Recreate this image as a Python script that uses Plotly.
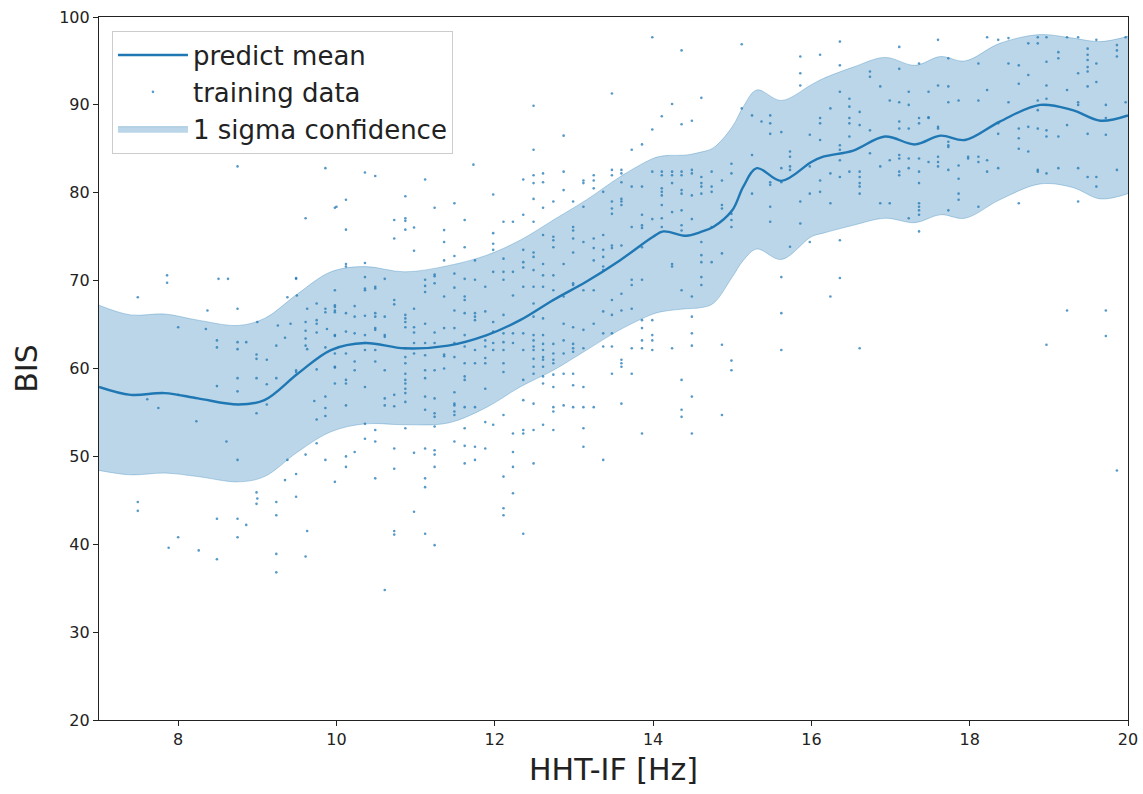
import plotly.graph_objects as go

# ---------------- data ----------------
# Gaussian-process prediction (mean and +/- 1 sigma band)
gp_x = [7.0, 7.4, 7.83, 8.25, 8.76, 9.09, 9.51, 9.93, 10.36, 10.86, 11.41, 11.9,
        12.32, 12.74, 13.16, 13.58, 14.0, 14.13, 14.42, 14.59, 14.76, 15.0, 15.14,
        15.31, 15.62, 16.0, 16.15, 16.53, 16.93, 17.31, 17.63, 17.94, 18.38, 18.89,
        19.3, 19.65, 20.0]
gp_mean = [57.9, 57.0, 57.2, 56.6, 55.9, 56.4, 59.4, 62.1, 62.9, 62.3, 62.6, 63.8,
           65.5, 67.8, 69.9, 72.3, 75.0, 75.6, 75.1, 75.5, 76.1, 78.0, 80.7,
           82.8, 81.35, 83.5, 84.1, 84.8, 86.4, 85.5, 86.5, 86.0, 88.1, 90.0,
           89.4, 88.2, 88.8]
gp_upper = [67.2, 66.1, 66.2, 65.5, 64.9, 65.7, 68.5, 71.0, 71.6, 71.0, 71.7, 72.9,
            74.6, 76.9, 79.2, 81.8, 83.9, 84.2, 84.3, 84.6, 85.1, 87.5, 89.8,
            91.7, 90.5, 92.3, 93.0, 94.3, 95.4, 94.5, 95.5, 95.0, 97.0, 98.0,
            97.6, 97.2, 97.8]
gp_lower = [48.4, 47.9, 48.1, 47.7, 47.1, 47.7, 50.5, 52.8, 53.7, 53.6, 53.8, 55.6,
            57.9, 59.8, 62.1, 64.4, 66.2, 66.5, 66.8, 66.9, 67.4, 70.4, 72.3,
            73.6, 72.4, 75.0, 75.4, 76.3, 77.1, 76.6, 77.5, 77.1, 79.2, 81.0,
            80.6, 79.3, 79.9]

# training data, low-frequency part (scattered points: (HHT-IF, BIS))
train_left = [
    (8.75, 83.0), (9.86, 82.8), (10.0, 78.4), (9.61, 77.1), (7.86, 70.6), (7.86, 69.75),
    (8.51, 70.2), (8.63, 70.2), (7.49, 68.1), (9.49, 70.3), (9.49, 70.2), (9.38, 68.1),
    (9.50, 68.3), (8.37, 66.6), (8.75, 66.8), (9.00, 65.3), (8.0, 64.7), (8.35, 64.5),
    (8.49, 63.2), (8.49, 62.4), (8.75, 63.0), (8.75, 62.2), (8.86, 63.0), (9.26, 64.9),
    (9.42, 65.1), (9.35, 63.5), (9.24, 62.6), (8.99, 61.6), (8.99, 61.1), (9.12, 61.0),
    (9.63, 66.8), (9.75, 67.4), (9.86, 66.8), (9.86, 66.4), (9.61, 65.3), (9.75, 65.5),
    (9.75, 65.1), (9.88, 64.5), (9.61, 64.3), (9.75, 64.1), (9.61, 63.4), (9.61, 62.6),
    (9.63, 62.2), (9.86, 62.4), (9.49, 59.8), (9.49, 59.6), (9.75, 59.9), (8.75, 58.9),
    (8.99, 58.9), (9.24, 58.9), (9.12, 58.2), (8.49, 58.0), (8.75, 57.4), (8.0, 57.0),
    (7.61, 56.5), (7.75, 55.5), (8.23, 54.0), (8.99, 54.9), (9.12, 55.9), (9.72, 56.3),
    (9.86, 56.8), (9.86, 55.5), (9.86, 54.6), (9.75, 54.2), (8.61, 51.7), (8.75, 49.6),
    (9.38, 49.6), (9.61, 50.2), (9.75, 51.5), (9.86, 49.6), (9.98, 47.1), (9.35, 47.3),
    (9.49, 48.0), (9.49, 45.4), (8.99, 45.9), (9.0, 45.2), (8.99, 44.6), (9.24, 44.8),
    (9.24, 43.3), (7.49, 44.8), (7.49, 43.8), (8.49, 42.9), (8.75, 42.9), (8.86, 42.2),
    (9.63, 41.5), (8.0, 40.8), (8.75, 40.8), (7.88, 39.6), (8.26, 39.3), (8.49, 38.3),
    (9.24, 38.9), (9.61, 38.6), (9.24, 36.8),
]

# training data recorded at repeated frequencies (columns of points)
cols_mid_x = [9.98, 10.12, 10.23, 10.36, 10.49, 10.61, 10.73, 10.87, 10.98, 11.12,
              11.24, 11.36, 11.49, 11.62, 11.73, 11.75, 11.88, 11.98, 12.11, 12.23,
              12.36, 12.49, 12.61, 12.74, 12.87, 12.99, 13.12, 13.25, 13.37, 13.48,
              13.60, 13.73, 13.86, 13.99, 14.11, 14.24, 14.36, 14.49]
cols_mid_y = [
    [68.9, 67.2, 66.6, 66.4, 63.8, 61.7, 60.2, 58.3, 78.3, 67.0, 63.7, 60.1],
    [79.2, 75.8, 71.9, 71.6, 66.3, 64.2, 61.7, 58.7, 58.3, 55.8, 48.8, 50.0],
    [67.1, 65.9, 64.0, 60.8, 59.8, 50.5],
    [82.3, 72.0, 70.4, 69.1, 68.9, 66.0, 63.8, 62.9, 62.1, 57.9, 53.7, 52.0],
    [81.9, 69.3, 69.1, 66.3, 65.9, 64.6, 64.4, 62.1, 60.8, 53.0, 51.7, 47.5],
    [70.2, 65.9, 63.8, 63.6, 59.8, 56.6, 55.8, 34.8],
    [76.9, 74.8, 67.8, 67.3, 57.0, 55.7, 50.9, 48.6, 41.1, 41.5],
    [79.6, 77.1, 76.8, 75.8, 66.1, 65.7, 65.3, 64.7, 62.3, 61.3, 60.6, 59.4, 58.7, 58.3,
     57.7, 57.2, 56.2, 53.2],
    [76.05, 73.4, 66.8, 64.7, 64.1, 62.9, 61.7, 50.4, 43.7],
    [81.5, 70.1, 69.4, 68.7, 65.1, 62.9, 61.5, 59.8, 58.9, 56.8, 55.3, 50.9, 47.5, 46.5,
     41.2],
    [78.3, 70.7, 70.5, 69.7, 64.1, 62.9, 59.8, 56.6, 54.9, 54.5, 53.4, 50.7, 50.2, 48.8,
     39.9],
    [75.75, 74.4, 72.3, 68.2, 64.6, 61.6, 61.4, 60.0],
    [78.8, 72.8, 70.8, 69.2, 66.6, 64.6, 62.9, 61.3, 57.3, 56.0, 55.8, 55.1, 54.7, 51.7],
    [76.9, 73.8, 70.2, 68.2, 67.8, 66.3, 63.8, 62.5, 60.6, 59.1, 58.7, 55.6, 53.2, 51.2,
     49.2],
    [83.2],
    [72.3, 70.1, 66.3, 65.9, 65.5, 62.1, 60.6, 55.6, 51.1, 49.6],
    [69.3, 66.5, 63.2, 62.5, 61.2, 60.6, 57.7, 53.9, 50.9],
    [79.8, 75.4, 74.2, 73.5, 71.0, 65.3, 64.2, 62.9, 62.1, 53.6],
    [76.7, 72.5, 71.0, 70.1, 66.1, 64.0, 63.0, 62.1, 60.6, 59.6, 54.7, 47.7, 44.1, 43.3],
    [76.7, 71.0, 68.3, 64.0, 62.9, 52.6, 50.5, 48.8, 45.8],
    [81.5, 77.5, 73.5, 72.1, 71.5, 69.3, 64.0, 62.1, 58.7, 56.4, 53.0, 52.6, 41.2],
    [89.9, 84.9, 82.0, 81.1, 79.3, 76.7, 73.2, 72.7, 71.2, 69.3, 67.4, 65.9, 63.8, 63.2,
     62.5, 62.1, 61.1, 60.2, 59.4, 56.0, 53.0, 49.2],
    [82.2, 81.2, 78.3, 75.2, 71.9, 70.6, 69.3, 65.7, 63.8, 62.8, 62.1, 61.3, 61.0, 60.2,
     59.1, 58.3, 53.6],
    [79.0, 75.0, 74.6, 73.8, 70.6, 68.9, 67.8, 62.8, 61.7, 61.0, 60.6, 59.3, 57.9, 55.6,
     55.1, 53.0],
    [86.5, 82.4, 80.3, 71.9, 68.2, 65.1, 63.2, 61.7, 59.4, 55.8],
    [79.0, 76.1, 75.7, 74.8, 73.2, 69.7, 69.5, 64.7, 62.8, 62.3, 61.9, 59.4, 58.1, 55.6],
    [81.4, 81.1, 78.4, 74.4, 68.9, 64.4, 62.3, 57.9, 55.6, 53.2, 51.1],
    [82.0, 81.4, 80.5, 74.8, 73.7, 72.3, 68.9, 65.1, 55.6],
    [80.1, 75.2, 73.5, 72.7, 71.6, 71.2, 66.5, 64.0, 62.5, 49.6],
    [91.3, 82.6, 82.0, 79.0, 78.2, 77.6, 74.0, 73.7, 67.8, 66.1, 64.0, 62.5, 59.4],
    [82.6, 82.2, 81.2, 79.3, 79.0, 78.6, 74.0, 68.5, 66.6, 61.0, 60.6, 60.2, 56.0],
    [84.9, 80.7, 76.1, 70.1, 69.5, 66.8, 62.3, 59.4],
    [85.5, 80.7, 77.5, 76.3, 76.0, 73.8, 70.1, 65.5, 64.6, 63.2, 62.3, 52.6],
    [97.7, 87.2, 82.4, 77.0, 65.5, 63.8, 63.2, 62.1],
    [88.7, 82.4, 82.0, 80.5, 80.1, 79.7, 78.6, 77.1, 76.1],
    [90.1, 82.4, 82.0, 81.1, 77.8, 71.9, 71.6, 62.3],
    [96.2, 87.8, 82.4, 82.0, 80.3, 79.9, 78.0, 76.3, 75.7, 68.9, 58.7, 55.3, 54.5],
    [88.2, 82.6, 82.2, 79.7, 77.0, 68.2, 65.9, 64.0, 62.6, 56.8, 52.6],
]

cols_high_x = [14.61, 14.74, 14.87, 14.99, 15.12, 15.25, 15.37, 15.48, 15.62, 15.73,
               15.86, 15.98, 16.11, 16.24, 16.36, 16.48, 16.61, 16.74, 16.87, 16.99,
               17.11, 17.23, 17.36, 17.48, 17.60, 17.73, 17.86, 17.98, 18.11, 18.22,
               18.36, 18.49, 18.62, 18.74, 18.86, 18.97, 19.12, 19.23, 19.37, 19.49,
               19.60, 19.72, 19.86, 19.97]
cols_high_y = [
    [90.8, 81.8, 81.1, 80.7, 79.9, 74.4, 72.9, 72.1, 70.4, 69.5],
    [82.4, 80.7, 80.1, 76.1, 72.1],
    [81.4, 78.6, 78.2, 73.1, 62.7, 54.7],
    [83.3, 82.2, 77.6, 76.9, 76.1, 60.9, 59.8],
    [96.9, 89.6],
    [88.8, 84.3, 79.9],
    [88.1],
    [88.8, 87.9, 86.7, 81.2, 80.9, 78.4, 76.7],
    [86.9, 82.8, 81.2, 70.4, 66.3, 62.1],
    [84.7, 84.1, 83.0, 82.6, 73.85],
    [95.5, 93.6, 92.2, 79.0, 76.5],
    [86.6, 83.0, 79.9, 74.4],
    [95.7, 88.5, 87.9, 86.0, 81.4, 80.1],
    [89.6, 82.2, 78.8, 68.2],
    [97.2, 94.5, 91.5, 85.4, 84.9, 83.7, 81.8, 74.6, 70.3],
    [90.7, 89.8, 88.5, 87.9, 86.4, 82.4],
    [89.2, 87.7, 82.4, 81.8, 81.1, 80.7, 79.9, 62.3],
    [93.8, 93.2, 87.1, 84.5],
    [92.1, 83.0, 78.8],
    [90.5, 83.7, 78.8],
    [96.6, 94.1, 90.3, 88.1, 87.3, 84.3, 83.9, 82.4, 82.0],
    [91.5, 90.0, 87.3, 83.9, 82.8, 77.1],
    [94.7, 88.5, 87.9, 83.9, 82.4, 81.1, 78.8, 78.4, 78.0, 77.5, 75.6],
    [91.5, 88.6, 88.5, 83.5],
    [97.4, 92.2, 87.5, 87.3, 84.1, 83.5, 83.0],
    [95.3, 92.1, 90.3, 85.8, 85.4, 85.2, 82.6, 78.0],
    [90.5, 83.1, 81.6, 79.9, 79.2],
    [84.1, 83.9],
    [94.7, 90.5, 84.1, 83.5, 78.4],
    [97.7, 91.7, 83.7, 82.4],
    [97.4, 87.9, 86.7, 82.8],
    [97.6, 94.7, 90.3],
    [94.5, 92.4, 87.3, 86.2, 85.0, 78.8],
    [97.0, 93.4, 87.5, 84.7],
    [97.7, 97.0, 90.5, 89.4, 87.3, 82.6, 82.4],
    [97.7, 94.9, 92.2, 90.7, 87.1, 86.4, 82.2, 62.7],
    [96.0, 95.3, 86.4, 82.8],
    [97.7, 91.7, 87.7, 66.6],
    [97.7, 93.6, 90.3, 90.0, 82.8, 79.0],
    [96.4, 95.7, 95.1, 94.3, 93.8, 92.1, 86.7, 81.8],
    [97.4, 94.7, 92.6, 81.8, 80.7],
    [90.0, 88.5, 86.6, 66.6, 63.7],
    [96.8, 96.2, 95.5, 82.6, 48.4],
    [97.7, 90.3],
]

x_ticks = [8, 10, 12, 14, 16, 18, 20]
y_ticks = [20, 30, 40, 50, 60, 70, 80, 90, 100]

# ---------------- assemble ----------------
train_x = [p[0] for p in train_left]
train_y = [p[1] for p in train_left]
for xs, ys in ((cols_mid_x, cols_mid_y), (cols_high_x, cols_high_y)):
    for cx, cy in zip(xs, ys):
        train_x += [cx] * len(cy)
        train_y += cy

BLUE = "#1f77b4"
BAND = "rgba(31,119,180,0.3)"
FONT = "DejaVu Sans"

fig = go.Figure()

fig.add_trace(go.Scatter(
    x=gp_x, y=gp_lower, mode="lines", line=dict(color=BAND, width=1, shape="spline", smoothing=1),
    showlegend=False, hoverinfo="skip", legendgroup="band"))
fig.add_trace(go.Scatter(
    x=gp_x, y=gp_upper, mode="lines", line=dict(color=BAND, width=1, shape="spline", smoothing=1),
    fill="tonexty", fillcolor=BAND, name="1 sigma confidence", legendrank=3,
    legendgroup="band"))
fig.add_trace(go.Scatter(
    x=train_x, y=train_y, mode="markers", name="training data", legendgroup="train",
    marker=dict(color=BLUE, size=2.6, opacity=0.75, line=dict(width=0)), legendrank=2))
fig.add_trace(go.Scatter(
    x=gp_x, y=gp_mean, mode="lines", name="predict mean", legendgroup="mean",
    line=dict(color=BLUE, width=2.4, shape="spline", smoothing=1), legendrank=1))

axis_common = dict(
    showgrid=False, zeroline=False, showline=True, linecolor="#222", linewidth=1.2,
    mirror=True, ticks="outside", ticklen=5, tickwidth=1, tickcolor="#222",
    tickfont=dict(family=FONT, size=16, color="#222"), automargin=False,
)

fig.update_layout(
    width=1143, height=794,
    margin=dict(l=99, r=15, t=17, b=74),
    paper_bgcolor="white", plot_bgcolor="white",
    font=dict(family=FONT, color="#222"),
    xaxis=dict(range=[7, 20], tickvals=x_ticks, **axis_common,
               title=dict(text="HHT-IF [Hz]", font=dict(family=FONT, size=30, color="#222"), standoff=10)),
    yaxis=dict(range=[20, 100], tickvals=y_ticks, **axis_common,
               title=dict(text="BIS", font=dict(family=FONT, size=30, color="#222"), standoff=12)),
    legend=dict(x=0.0126, y=0.9806, xanchor="left", yanchor="top", traceorder="normal",
                bgcolor="rgba(255,255,255,0.85)", bordercolor="#cccccc", borderwidth=1,
                font=dict(family=FONT, size=26, color="#222"), itemwidth=70,
                tracegroupgap=5),
    showlegend=True,
)

fig.write_html("out.html")
